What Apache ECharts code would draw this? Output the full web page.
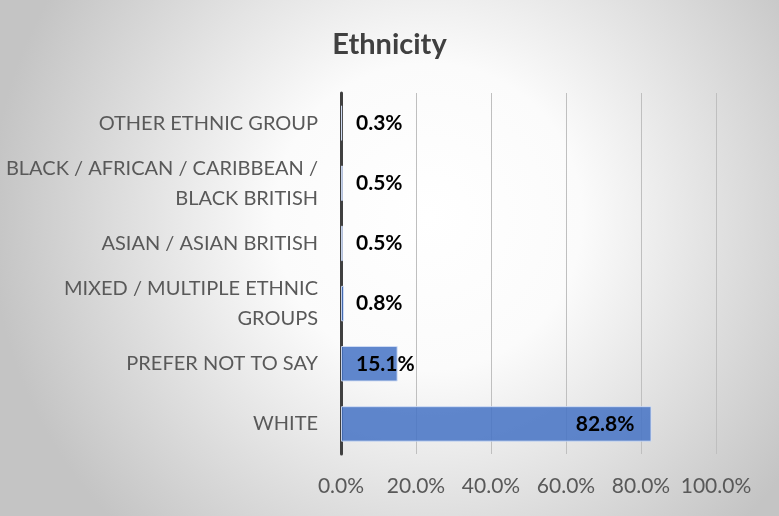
<!DOCTYPE html>
<html>
<head>
<meta charset="utf-8">
<script src="https://cdn.jsdelivr.net/npm/echarts@6/dist/echarts.min.js"></script>
<style>
  html, body { margin: 0; padding: 0; }
  #chart { width: 779px; height: 516px; }
</style>
</head>
<body>
<div id="chart"></div>
<script>
// categories from bottom to top, as drawn on the y axis
const categories = [
  'WHITE',
  'PREFER NOT TO SAY',
  'MIXED / MULTIPLE ETHNIC\nGROUPS',
  'ASIAN / ASIAN BRITISH',
  'BLACK / AFRICAN / CARIBBEAN /\nBLACK BRITISH',
  'OTHER ETHNIC GROUP',
]
const values = [82.8, 15.1, 0.8, 0.5, 0.5, 0.3]
const xTicks = [0, 20, 40, 60, 80, 100]

const chart = echarts.init(document.getElementById('chart'))

const font = 'Lato'

const options = {
  backgroundColor: {
    type: 'radial',
    x: 0.55,
    y: 0.42,
    r: 0.85,
    colorStops: [
      {offset: 0, color: '#ffffff'},
      {offset: 0.35, color: '#fbfbfb'},
      {offset: 1, color: '#c4c4c4'},
    ],
  },
  title: {
    text: 'Ethnicity',
    left: 'center',
    top: 25,
    textStyle: {
      color: '#404040',
      fontFamily: font,
      fontWeight: 'bold',
      fontSize: 29,
    },
  },
  grid: {
    left: 341,
    right: 63,
    top: 93,
    bottom: 62,
  },
  xAxis: {
    type: 'value',
    min: 0,
    max: 100,
    interval: 20,
    axisLine: {show: false},
    axisTick: {show: false},
    axisLabel: {
      color: '#595959',
      fontFamily: font,
      fontSize: 21,
      margin: 22,
      formatter: v => (xTicks.includes(v) ? v.toFixed(1) + '%' : ''),
    },
    splitLine: {
      show: true,
      lineStyle: {color: '#bfbfbf', width: 1},
    },
  },
  yAxis: {
    type: 'category',
    data: categories,
    axisLine: {
      show: true,
      lineStyle: {color: '#404040', width: 3},
    },
    axisTick: {show: false},
    axisLabel: {
      color: '#595959',
      fontFamily: font,
      fontSize: 20,
      lineHeight: 30,
      margin: 23,
      align: 'right',
    },
  },
  series: [
    {
      type: 'bar',
      data: values.map((v, i) => ({
        value: v,
        label: i === 0
          ? {position: 'insideRight', distance: 17}
          : {position: 'insideLeft', distance: 15},
      })),
      barWidth: '59%',
      itemStyle: {
        color: 'rgba(68, 114, 196, 0.85)',
        borderColor: 'rgba(210, 222, 245, 0.9)',
        borderWidth: 1,
      },
      label: {
        show: true,
        color: '#000000',
        fontFamily: font,
        fontWeight: 'bold',
        fontSize: 21,
        formatter: p => p.value.toFixed(1) + '%',
      },
      z: 3,
    },
  ],
}
options && chart.setOption(options)
</script>
</body>
</html>
